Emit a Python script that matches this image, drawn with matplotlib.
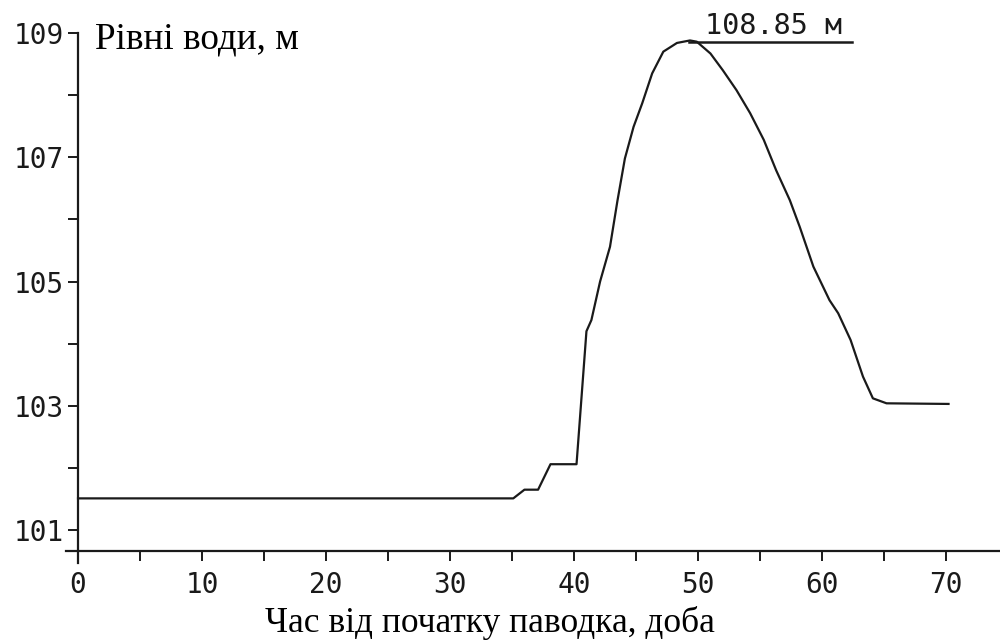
import matplotlib
matplotlib.use("Agg")
import matplotlib.pyplot as plt

# water level hydrograph
doba = [0, 35.1, 36.0, 37.1, 38.1, 40.2, 41.0, 41.4, 42.1, 42.9, 43.5, 44.1,
        44.8, 45.5, 46.3, 47.2, 48.3, 49.35, 49.9, 51.0, 52.0, 53.1, 54.2,
        55.3, 56.3, 57.4, 58.2, 59.3, 60.6, 61.3, 62.3, 63.3, 64.1, 65.2,
        70.2]
riven = [101.51, 101.51, 101.65, 101.65, 102.06, 102.06, 104.2, 104.38,
         105.0, 105.56, 106.3, 106.98, 107.49, 107.87, 108.35, 108.70,
         108.84, 108.88, 108.86, 108.67, 108.40, 108.08, 107.71, 107.28,
         106.79, 106.31, 105.88, 105.24, 104.70, 104.49, 104.06, 103.47,
         103.12, 103.04, 103.03]
pik = 108.85

mono = "DejaVu Sans Mono"
serif = "Liberation Serif"
kolir = "#1a1a1a"

fig = plt.figure(figsize=(10, 6.41), dpi=100)
ax = fig.add_axes([0.066, 1 - 563 / 641, 0.934, (563 - 33) / 641])

ax.plot(doba, riven, color=kolir, lw=1.6, solid_joinstyle="round")

# peak marker line and label
ax.plot([49.3, 62.4], [pik, pik], color=kolir, lw=1.8, clip_on=False)
ax.text(50.6, pik + 0.04, "108.85 м", family=mono, fontsize=20.5,
        color=kolir, va="bottom", ha="left")

ax.set_xlim(-0.97, 74.35)
ax.set_ylim(100.47, 109)

ax.spines["top"].set_visible(False)
ax.spines["right"].set_visible(False)
ax.spines["left"].set_position(("data", 0))
ax.spines["bottom"].set_position(("data", 100.66))
for s in ("left", "bottom"):
    ax.spines[s].set_linewidth(1.6)
    ax.spines[s].set_color(kolir)

ax.set_xticks(range(0, 71, 10))
ax.set_xticks([5, 15, 25, 35, 45, 55, 65], minor=True)
ax.set_yticks([101, 103, 105, 107, 109])
ax.set_yticks([102, 104, 106, 108], minor=True)

ax.tick_params(which="both", direction="out", length=7.5, width=1.4,
               color=kolir, labelcolor=kolir)
ax.tick_params(axis="x", pad=7)
ax.tick_params(axis="y", pad=3)
for lab in ax.get_xticklabels() + ax.get_yticklabels():
    lab.set_family(mono)
    lab.set_fontsize(20)

fig.text(0.095, 1 - 48 / 641, "Рівні води, м", family=serif, fontsize=26.8,
         va="baseline", ha="left", color="black")
fig.text(0.49, 1 - 632 / 641, "Час від початку паводка, доба", family=serif,
         fontsize=25.5, va="baseline", ha="center", color="black")

fig.savefig("out.png", dpi=100, facecolor="white")
